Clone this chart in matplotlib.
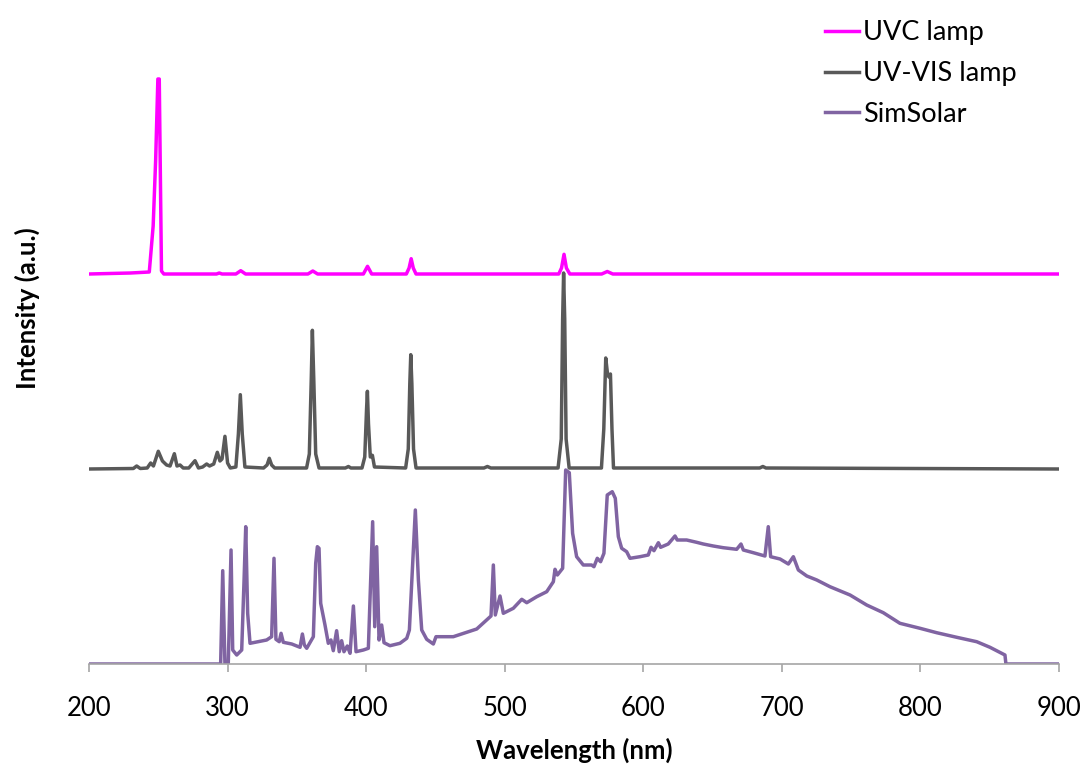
import matplotlib
matplotlib.use("Agg")
import matplotlib.pyplot as plt

# spectra (wavelength in nm, intensity in arbitrary units above each baseline)
uvc_wl = [200, 230, 243.5, 246.3, 248.1, 249.7, 250.7, 252.3, 254, 292, 294, 296, 306, 309.5, 313,
          358, 361.5, 365, 398, 401, 404, 429, 431, 432.5, 434, 436, 539, 541, 542.8, 544.5, 547,
          570, 574, 578, 900]
uvc_val = [0, 1, 2, 48, 114, 195, 195, 3, 0, 0, 1, 0, 0, 3.3, 0,
           0, 3, 0, 0, 7.7, 0, 0, 6, 15.3, 6, 0, 0, 6, 19.7, 6, 0,
           0, 2.5, 0, 0]

uvvis_wl = [200, 232, 234.4, 237, 242, 244.5, 246.5, 250, 253, 256, 258.5, 261.6, 263.5, 265.7, 268,
            272, 276.5, 279, 282, 284.9, 287, 290, 292.6, 294.5, 296, 298.1, 300, 302, 306, 307.8,
            309.2, 310.6, 312.5, 326, 328.5, 330.1, 331.8, 334, 357, 359, 360.4, 361.2, 362.2, 363.6,
            366, 385, 387.2, 389, 397, 399, 400.3, 400.9, 401.7, 403, 404.5, 406, 428.5, 430.4, 431.5,
            432.2, 433, 434.2, 436, 485, 487.5, 490, 538.5, 540.8, 541.8, 542.5, 543.3, 544.3, 546.5,
            569.8, 571.5, 572.9, 574.2, 575.2, 576.3, 577.4, 578.5, 684, 686.3, 688.5, 900]
uvvis_val = [0, 0.5, 3, 0.5, 1, 6, 3, 17.7, 8, 4, 3, 15.3, 3, 4, 1,
             1, 8.3, 1, 2, 5, 3, 5, 16.7, 8, 10, 32.7, 6, 1, 2, 35,
             74.3, 35, 2, 1, 4, 10.7, 4, 1, 1, 15, 90, 138.7, 90, 15,
             1, 1, 2.5, 1, 1, 12, 60, 77.7, 45, 12, 13.7, 2, 1, 20, 85,
             114.3, 85, 20, 1, 1, 2.5, 1, 1, 30, 150, 196, 150, 30, 1,
             1, 40, 111, 95, 92, 95, 40, 1, 1, 2.5, 1, 0]

solar_wl = [200, 295.0, 296.5, 298.1, 300.5, 302.5, 303.7, 306.6, 310.2, 311.9, 313.1, 314.5, 316.2,
            328.2, 331.8, 333.5, 334.9, 337.3, 338.6, 340.2, 346.3, 352.3, 354, 355.4, 357.1, 361.9,
            363.6, 364.8, 366, 367.2, 370.3, 372.7, 374.6, 376.3, 378.7, 380.6, 382.3, 384, 386.4,
            388.4, 390.8, 392.7, 398, 401.6, 404.7, 406.2, 407.6, 409.3, 411.2, 412.9, 417.2, 424.4,
            429.3, 431.2, 433.6, 435.5, 437.7, 440.1, 443.7, 448.5, 450.4, 462.9, 472.6, 479.8, 487,
            490.1, 491.8, 493.2, 496.6, 499, 506.2, 512.3, 515.9, 523.1, 530.3, 535.1, 536.3, 538,
            541.8, 544, 546.6, 549, 551.9, 556.7, 562.7, 564.4, 566.8, 569.2, 571.6, 574, 577.6,
            579.8, 582, 584.4, 588, 590.4, 597.6, 603.6, 605.6, 607.7, 610.9, 612.5, 618, 622.9,
            624.5, 631.3, 638.5, 643.3, 650.5, 657.7, 667.4, 670.5, 672.2, 679.4, 687.8, 690.2,
            691.9, 698.7, 704.7, 708.3, 711.9, 718, 725.2, 734.7, 749.2, 761.2, 773.2, 785.2, 799.7,
            811.7, 826.2, 840.6, 850.2, 861, 861.7, 900]
solar_val = [0, 0, 93.3, 0, 0, 114, 14, 9, 14, 84, 137.3, 50.7, 20.7,
             24, 27.3, 105.7, 24.7, 22.3, 30.7, 21.7, 20, 16.7, 30, 19, 15.7, 27.3,
             100.7, 117.3, 115.7, 60.7, 39, 20.7, 24, 13.3, 33.3, 12.3, 23.3, 12.3, 18,
             10.7, 58, 12.3, 14, 15.7, 142.3, 37.3, 117.3, 24, 39, 21.3, 18.3, 20.7,
             25.7, 34, 100.7, 154, 84, 34, 24.7, 20, 27.3, 27.3, 31.7, 35, 44,
             48, 99, 49, 68, 50.7, 55.7, 64.7, 61.3, 67.3, 72.3, 82.3, 94.7, 89,
             95.7, 194, 191.3, 130.7, 107.3, 99, 99, 97.3, 105.7, 102.3, 110.7, 169, 172.3,
             165.7, 127.3, 115.7, 112.3, 105.7, 107.3, 109, 116.7, 113.3, 121.3, 116.7, 120, 128,
             124, 124, 121.7, 120, 118, 116.3, 114.7, 120, 114, 111.3, 108, 137.3,
             107.3, 105, 100, 107.3, 94, 88, 84, 77.3, 69, 59, 51.3, 40.7, 35.7,
             31.3, 26.7, 22.3, 16.7, 9, 0, 0]

labels = ["UVC lamp", "UV-VIS lamp", "SimSolar"]
colors = ["#FF00FF", "#595959", "#8064A2"]
offsets = [390, 195, 0]

plt.rcParams["font.family"] = ["Lato", "DejaVu Sans"]

fig = plt.figure(figsize=(10.88, 7.65), dpi=100)
ax = fig.add_axes([89 / 1088, 101 / 765, 970 / 1088, 600 / 765])

series = [(uvc_wl, uvc_val), (uvvis_wl, uvvis_val), (solar_wl, solar_val)]
for (wl, val), lab, col, off in zip(series, labels, colors, offsets):
    ax.plot(wl, [v + off for v in val], color=col, lw=2.5, label=lab, solid_joinstyle="round")

ax.set_xlim(200, 900)
ax.set_ylim(0, 600)
ax.set_xticks(range(200, 901, 100))
ax.set_yticks([])
for s in ["top", "right", "left"]:
    ax.spines[s].set_visible(False)
ax.spines["bottom"].set_color("#A6A6A6")
ax.spines["bottom"].set_linewidth(1.2)
ax.tick_params(axis="x", colors="#A6A6A6", length=6, width=1.2, labelsize=18.5, labelcolor="black", pad=17)

ax.set_xlabel("Wavelength (nm)", fontsize=18.5, fontweight="bold", labelpad=12)
ax.set_ylabel("Intensity (a.u.)", fontsize=18.5, fontweight="bold")
ax.yaxis.set_label_coords(-0.05, 0.593)

leg = ax.legend(loc="upper left", bbox_to_anchor=(820 / 1088, 1 - 15 / 765), bbox_transform=fig.transFigure,
                frameon=False, fontsize=19.5, handlelength=1.25, handletextpad=0.15, labelspacing=0.58,
                borderaxespad=0, borderpad=0.2)

fig.savefig("out.png", dpi=100)
